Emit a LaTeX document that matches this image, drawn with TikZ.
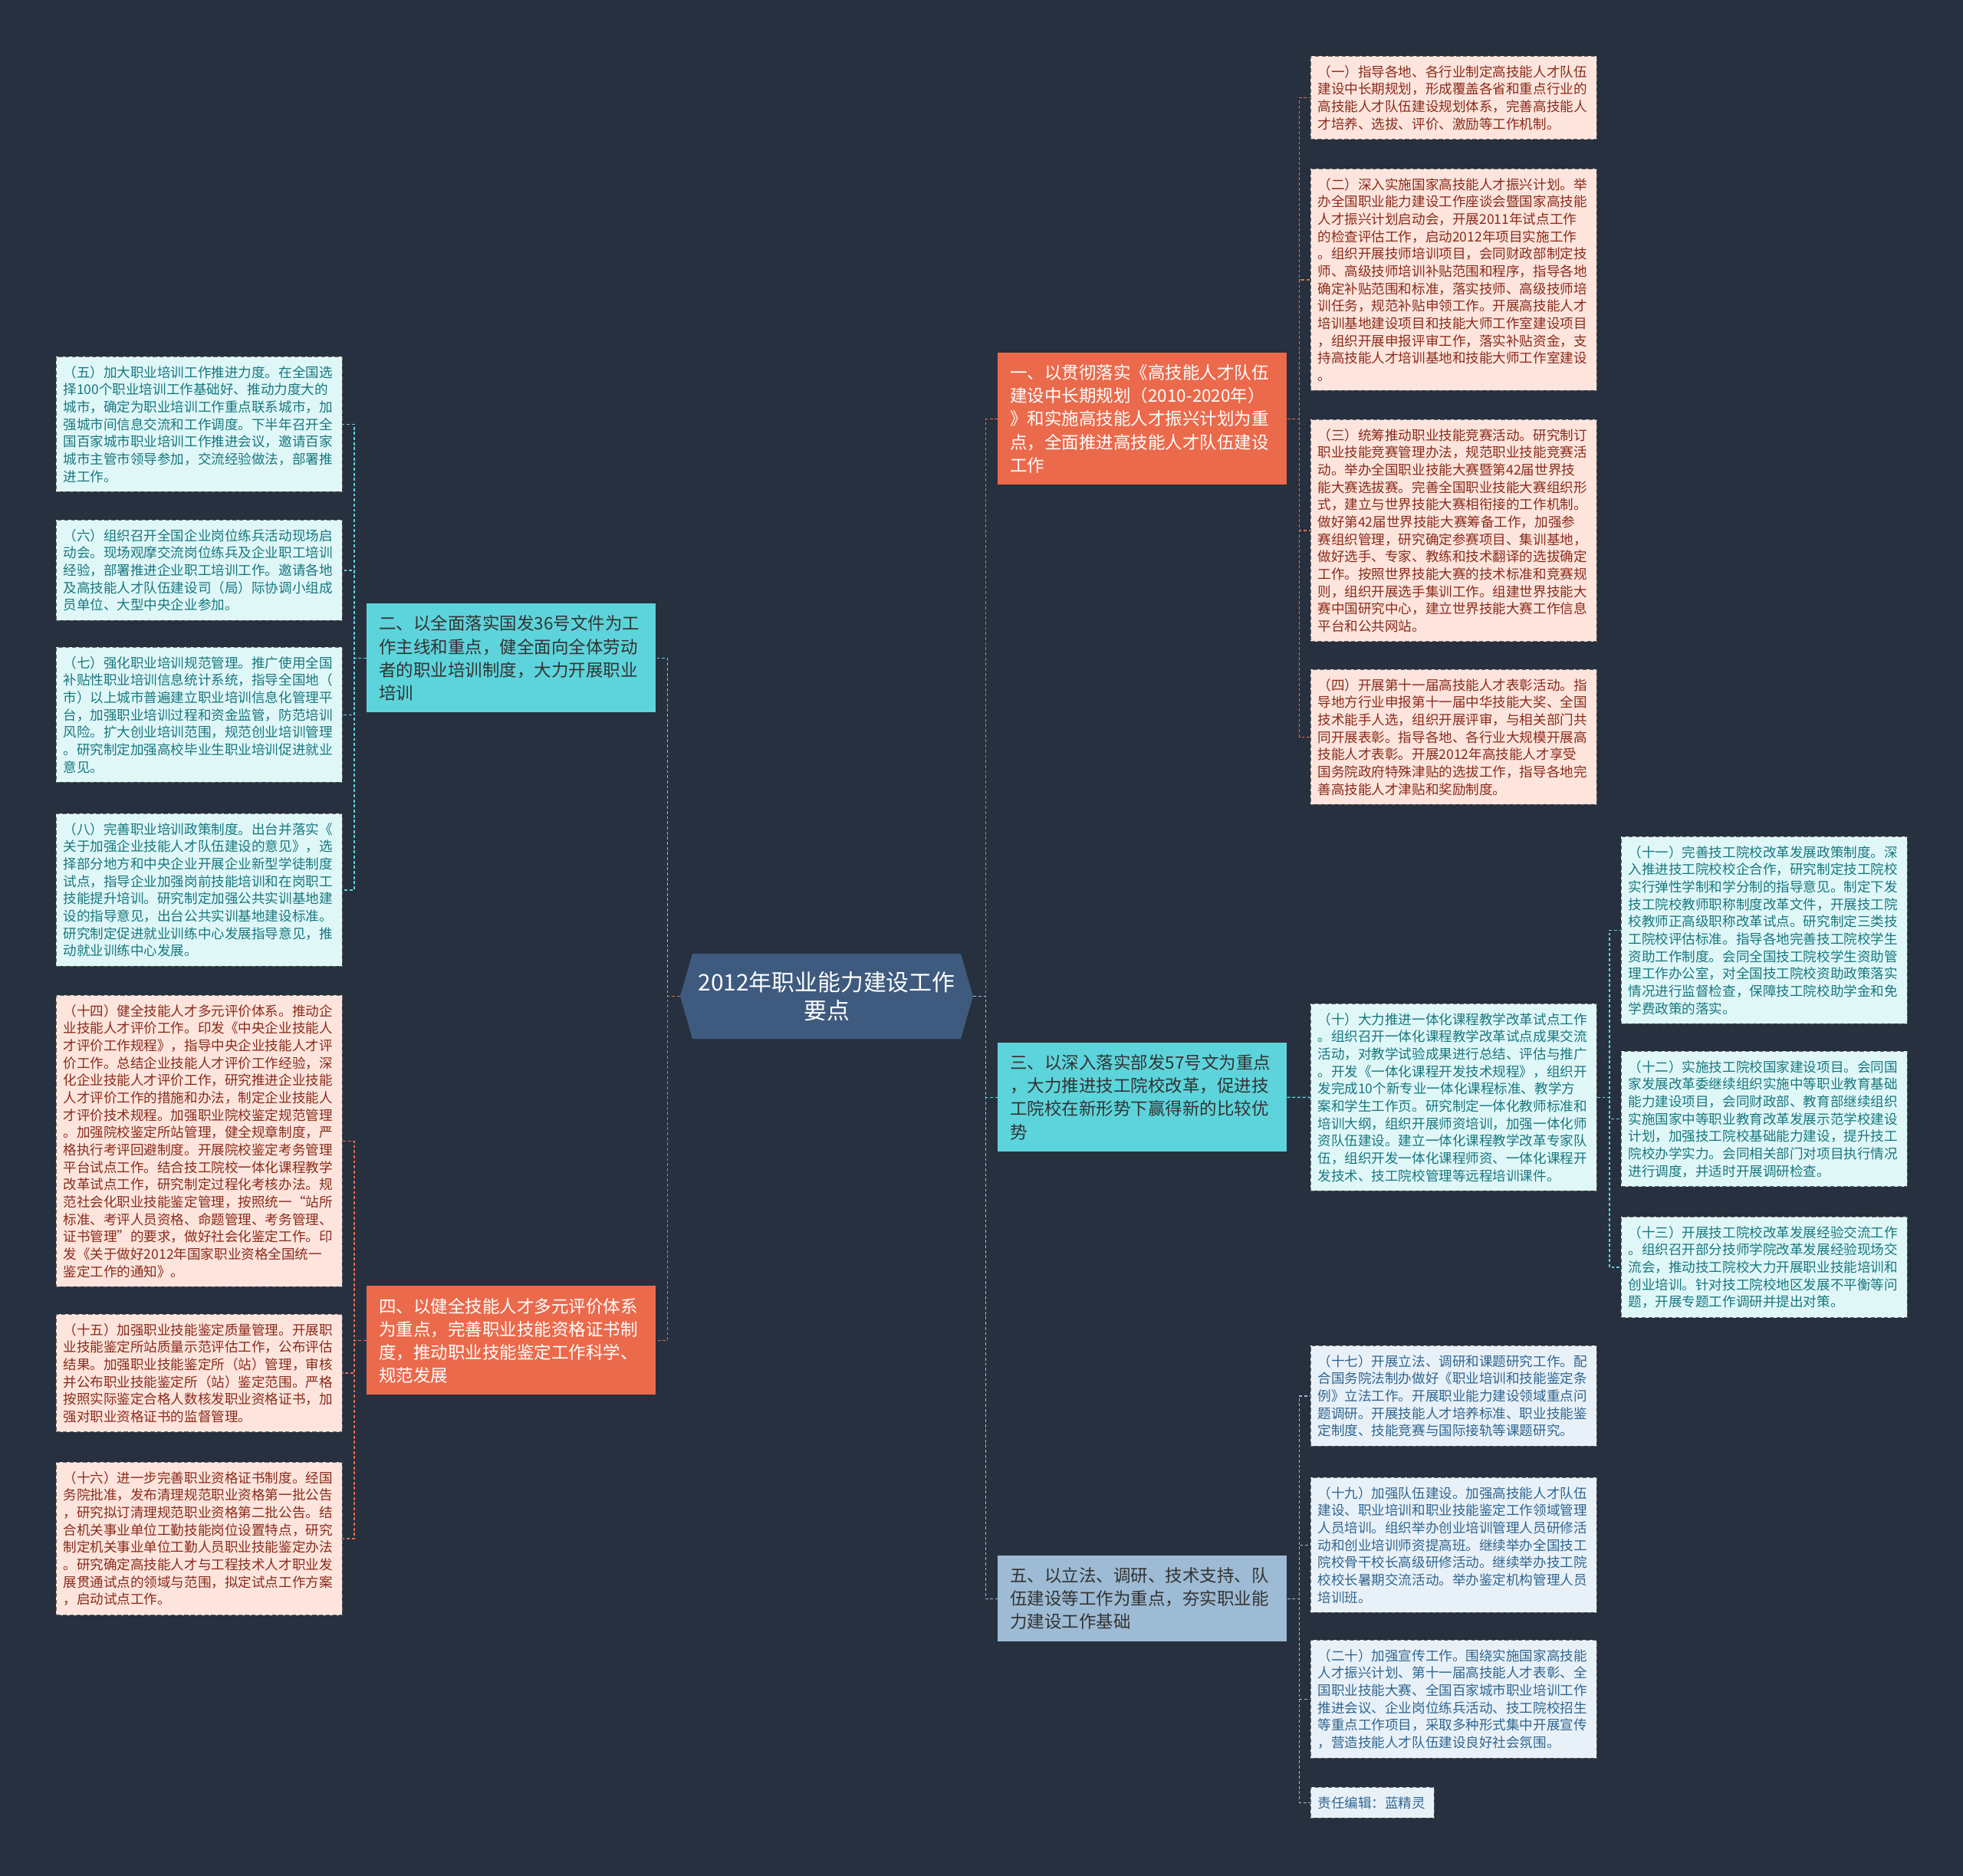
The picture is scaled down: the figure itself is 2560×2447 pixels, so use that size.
\documentclass[tikz,border=0pt]{standalone}
\usepackage{fontspec}
\setmainfont{Noto Sans CJK SC}
\usetikzlibrary{arrows.meta}

\definecolor{bgc}{HTML}{27303E}
\definecolor{rootc}{HTML}{3E5A7F}
\definecolor{orc}{HTML}{EB6A4C}
\definecolor{cyc}{HTML}{5DD4DB}
\definecolor{blc}{HTML}{9DBBD4}
\definecolor{orleaf}{HTML}{FDE5DD}
\definecolor{cyleaf}{HTML}{E0F7F8}
\definecolor{blleaf}{HTML}{E9F1F8}
\definecolor{ortext}{HTML}{8A2B1B}
\definecolor{cytext}{HTML}{17787F}
\definecolor{bltext}{HTML}{2F6690}

\begin{document}
\begin{tikzpicture}[
  x=0.02cm, y=-0.02cm,
  root/.style={minimum width=7.64cm, minimum height=2.22cm, align=center,
               text=white, font=\fontsize{17}{21.3}\selectfont},
  branch/.style={anchor=north west, text width=6.9cm, align=left,
                 inner xsep=0.32cm, inner ysep=0.31cm,
                 font=\fontsize{12.8}{17.1}\selectfont},
  bro/.style={branch, fill=orc, text=white},
  brc/.style={branch, fill=cyc, text=black!80},
  brb/.style={branch, fill=blc, text=black!80},
  leaf/.style={anchor=north west, text width=7.1cm, align=left,
               inner xsep=0.18cm, inner ysep=0.235cm,
               draw=black!60, densely dashed, line width=0.5pt,
               font=\fontsize{10}{12.9}\selectfont},
  leafo/.style={leaf, fill=orleaf, text=ortext},
  leafc/.style={leaf, fill=cyleaf, text=cytext},
  leafb/.style={leaf, fill=blleaf, text=bltext},
  lnk/.style={line width=0.9pt, dash pattern=on 2.2pt off 1.6pt},
  lnko/.style={lnk, orc},
  lnkc/.style={lnk, cyc},
  lnkb/.style={lnk, blc},
]
  % --- Background ---
  \fill[bgc] (0,0) rectangle (2560,2447);

  % --- Central topic ---
  \fill[rootc] (887,1299.5) -- (903,1244) -- (1253,1244) -- (1269,1299.5)
    -- (1253,1355) -- (903,1355) -- cycle;
  \node[root] at (1078,1299.5) (root) {2012年职业能力建设工作\\要点};

  % --- Main branches ---
  \node[bro] at (1301,460) (b1) {一、以贯彻落实《高技能人才队伍\\建设中长期规划（2010-2020年）\\》和实施高技能人才振兴计划为重\\点，全面推进高技能人才队伍建设\\工作};
  \node[brc] at (478,787) (b2) {二、以全面落实国发36号文件为工\\作主线和重点，健全面向全体劳动\\者的职业培训制度，大力开展职业\\培训};
  \node[brc] at (1301,1360) (b3) {三、以深入落实部发57号文为重点\\，大力推进技工院校改革，促进技\\工院校在新形势下赢得新的比较优\\势};
  \node[bro] at (478,1677) (b4) {四、以健全技能人才多元评价体系\\为重点，完善职业技能资格证书制\\度，推动职业技能鉴定工作科学、\\规范发展};
  \node[brb] at (1301,2029) (b5) {五、以立法、调研、技术支持、队\\伍建设等工作为重点，夯实职业能\\力建设工作基础};

  % --- Leaves of branch one ---
  \node[leafo] at (1709,73) (l1) {（一）指导各地、各行业制定高技能人才队伍\\建设中长期规划，形成覆盖各省和重点行业的\\高技能人才队伍建设规划体系，完善高技能人\\才培养、选拔、评价、激励等工作机制。};
  \node[leafo] at (1709,220) (l2) {（二）深入实施国家高技能人才振兴计划。举\\办全国职业能力建设工作座谈会暨国家高技能\\人才振兴计划启动会，开展2011年试点工作\\的检查评估工作，启动2012年项目实施工作\\。组织开展技师培训项目，会同财政部制定技\\师、高级技师培训补贴范围和程序，指导各地\\确定补贴范围和标准，落实技师、高级技师培\\训任务，规范补贴申领工作。开展高技能人才\\培训基地建设项目和技能大师工作室建设项目\\，组织开展申报评审工作，落实补贴资金，支\\持高技能人才培训基地和技能大师工作室建设\\。};
  \node[leafo] at (1709,547) (l3) {（三）统筹推动职业技能竞赛活动。研究制订\\职业技能竞赛管理办法，规范职业技能竞赛活\\动。举办全国职业技能大赛暨第42届世界技\\能大赛选拔赛。完善全国职业技能大赛组织形\\式，建立与世界技能大赛相衔接的工作机制。\\做好第42届世界技能大赛筹备工作，加强参\\赛组织管理，研究确定参赛项目、集训基地，\\做好选手、专家、教练和技术翻译的选拔确定\\工作。按照世界技能大赛的技术标准和竞赛规\\则，组织开展选手集训工作。组建世界技能大\\赛中国研究中心，建立世界技能大赛工作信息\\平台和公共网站。};
  \node[leafo] at (1709,873) (l4) {（四）开展第十一届高技能人才表彰活动。指\\导地方行业申报第十一届中华技能大奖、全国\\技术能手人选，组织开展评审，与相关部门共\\同开展表彰。指导各地、各行业大规模开展高\\技能人才表彰。开展2012年高技能人才享受\\国务院政府特殊津贴的选拔工作，指导各地完\\善高技能人才津贴和奖励制度。};

  % --- Leaves of branch two ---
  \node[leafc] at (73,465) (l5) {（五）加大职业培训工作推进力度。在全国选\\择100个职业培训工作基础好、推动力度大的\\城市，确定为职业培训工作重点联系城市，加\\强城市间信息交流和工作调度。下半年召开全\\国百家城市职业培训工作推进会议，邀请百家\\城市主管市领导参加，交流经验做法，部署推\\进工作。};
  \node[leafc] at (73,678) (l6) {（六）组织召开全国企业岗位练兵活动现场启\\动会。现场观摩交流岗位练兵及企业职工培训\\经验，部署推进企业职工培训工作。邀请各地\\及高技能人才队伍建设司（局）际协调小组成\\员单位、大型中央企业参加。};
  \node[leafc] at (73,844) (l7) {（七）强化职业培训规范管理。推广使用全国\\补贴性职业培训信息统计系统，指导全国地（\\市）以上城市普遍建立职业培训信息化管理平\\台，加强职业培训过程和资金监管，防范培训\\风险。扩大创业培训范围，规范创业培训管理\\。研究制定加强高校毕业生职业培训促进就业\\意见。};
  \node[leafc] at (73,1061) (l8) {（八）完善职业培训政策制度。出台并落实《\\关于加强企业技能人才队伍建设的意见》，选\\择部分地方和中央企业开展企业新型学徒制度\\试点，指导企业加强岗前技能培训和在岗职工\\技能提升培训。研究制定加强公共实训基地建\\设的指导意见，出台公共实训基地建设标准。\\研究制定促进就业训练中心发展指导意见，推\\动就业训练中心发展。};

  % --- Leaves of branch three ---
  \node[leafc] at (1709,1309) (l10) {（十）大力推进一体化课程教学改革试点工作\\。组织召开一体化课程教学改革试点成果交流\\活动，对教学试验成果进行总结、评估与推广\\。开发《一体化课程开发技术规程》，组织开\\发完成10个新专业一体化课程标准、教学方\\案和学生工作页。研究制定一体化教师标准和\\培训大纲，组织开展师资培训，加强一体化师\\资队伍建设。建立一体化课程教学改革专家队\\伍，组织开发一体化课程师资、一体化课程开\\发技术、技工院校管理等远程培训课件。};
  \node[leafc] at (2114,1091) (l11) {（十一）完善技工院校改革发展政策制度。深\\入推进技工院校校企合作，研究制定技工院校\\实行弹性学制和学分制的指导意见。制定下发\\技工院校教师职称制度改革文件，开展技工院\\校教师正高级职称改革试点。研究制定三类技\\工院校评估标准。指导各地完善技工院校学生\\资助工作制度。会同全国技工院校学生资助管\\理工作办公室，对全国技工院校资助政策落实\\情况进行监督检查，保障技工院校助学金和免\\学费政策的落实。};
  \node[leafc] at (2114,1371) (l12) {（十二）实施技工院校国家建设项目。会同国\\家发展改革委继续组织实施中等职业教育基础\\能力建设项目，会同财政部、教育部继续组织\\实施国家中等职业教育改革发展示范学校建设\\计划，加强技工院校基础能力建设，提升技工\\院校办学实力。会同相关部门对项目执行情况\\进行调度，并适时开展调研检查。};
  \node[leafc] at (2114,1587) (l13) {（十三）开展技工院校改革发展经验交流工作\\。组织召开部分技师学院改革发展经验现场交\\流会，推动技工院校大力开展职业技能培训和\\创业培训。针对技工院校地区发展不平衡等问\\题，开展专题工作调研并提出对策。};

  % --- Leaves of branch four ---
  \node[leafo] at (73,1298) (l14) {（十四）健全技能人才多元评价体系。推动企\\业技能人才评价工作。印发《中央企业技能人\\才评价工作规程》，指导中央企业技能人才评\\价工作。总结企业技能人才评价工作经验，深\\化企业技能人才评价工作，研究推进企业技能\\人才评价工作的措施和办法，制定企业技能人\\才评价技术规程。加强职业院校鉴定规范管理\\。加强院校鉴定所站管理，健全规章制度，严\\格执行考评回避制度。开展院校鉴定考务管理\\平台试点工作。结合技工院校一体化课程教学\\改革试点工作，研究制定过程化考核办法。规\\范社会化职业技能鉴定管理，按照统一“站所\\标准、考评人员资格、命题管理、考务管理、\\证书管理”的要求，做好社会化鉴定工作。印\\发《关于做好2012年国家职业资格全国统一\\鉴定工作的通知》。};
  \node[leafo] at (73,1714) (l15) {（十五）加强职业技能鉴定质量管理。开展职\\业技能鉴定所站质量示范评估工作，公布评估\\结果。加强职业技能鉴定所（站）管理，审核\\并公布职业技能鉴定所（站）鉴定范围。严格\\按照实际鉴定合格人数核发职业资格证书，加\\强对职业资格证书的监督管理。};
  \node[leafo] at (73,1907) (l16) {（十六）进一步完善职业资格证书制度。经国\\务院批准，发布清理规范职业资格第一批公告\\，研究拟订清理规范职业资格第二批公告。结\\合机关事业单位工勤技能岗位设置特点，研究\\制定机关事业单位工勤人员职业技能鉴定办法\\。研究确定高技能人才与工程技术人才职业发\\展贯通试点的领域与范围，拟定试点工作方案\\，启动试点工作。};

  % --- Leaves of branch five ---
  \node[leafb] at (1709,1755) (l17) {（十七）开展立法、调研和课题研究工作。配\\合国务院法制办做好《职业培训和技能鉴定条\\例》立法工作。开展职业能力建设领域重点问\\题调研。开展技能人才培养标准、职业技能鉴\\定制度、技能竞赛与国际接轨等课题研究。};
  \node[leafb] at (1709,1927) (l19) {（十九）加强队伍建设。加强高技能人才队伍\\建设、职业培训和职业技能鉴定工作领域管理\\人员培训。组织举办创业培训管理人员研修活\\动和创业培训师资提高班。继续举办全国技工\\院校骨干校长高级研修活动。继续举办技工院\\校校长暑期交流活动。举办鉴定机构管理人员\\培训班。};
  \node[leafb] at (1709,2139) (l20) {（二十）加强宣传工作。围绕实施国家高技能\\人才振兴计划、第十一届高技能人才表彰、全\\国职业技能大赛、全国百家城市职业培训工作\\推进会议、企业岗位练兵活动、技工院校招生\\等重点工作项目，采取多种形式集中开展宣传\\，营造技能人才队伍建设良好社会氛围。};
  \node[leafb, text width=2.86cm] at (1709,2331) (ed) {责任编辑：蓝精灵};

  % --- Connectors ---
  \draw[lnko] (root.east) -- ++(16,0) |- (b1.west);
  \draw[lnkc] (root.east) -- ++(16,0) |- (b3.west);
  \draw[lnkb] (root.east) -- ++(16,0) |- (b5.west);
  \draw[lnkc] (root.west) -- ++(-16,0) |- (b2.east);
  \draw[lnko] (root.west) -- ++(-16,0) |- (b4.east);

  \foreach \n in {l1,l2,l3,l4}
    \draw[lnko] (b1.east) -- ++(16,0) |- (\n.west);
  \foreach \n in {l5,l6,l7,l8}
    \draw[lnkc] (b2.west) -- ++(-16,0) |- (\n.east);
  \draw[lnkc] (b3.east) -- (l10.west);
  \foreach \n in {l11,l12,l13}
    \draw[lnkc] (l10.east) -- ++(16,0) |- (\n.west);
  \foreach \n in {l14,l15,l16}
    \draw[lnko] (b4.west) -- ++(-16,0) |- (\n.east);
  \foreach \n in {l17,l19,l20,ed}
    \draw[lnkb] (b5.east) -- ++(16,0) |- (\n.west);

\end{tikzpicture}
\end{document}
